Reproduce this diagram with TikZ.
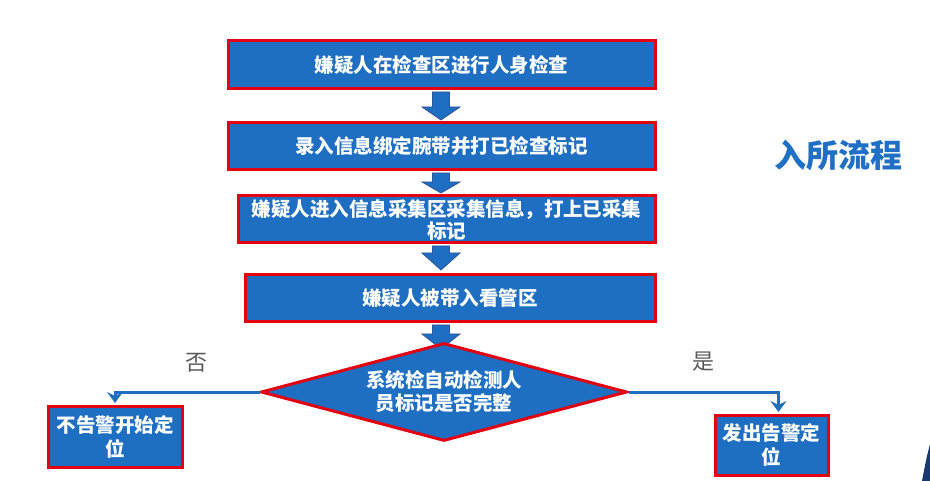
\documentclass[tikz,border=0pt]{standalone}
\usepackage{fontspec}
\newfontfamily\cjk{Noto Sans CJK SC}
\usetikzlibrary{shapes.geometric,arrows.meta,calc}
\definecolor{boxblue}{HTML}{1E6FC2}
\definecolor{boxred}{HTML}{E3000F}
\definecolor{arrline}{HTML}{2F5597}
\definecolor{lblgray}{HTML}{595959}
\definecolor{ttlblue}{HTML}{1F6FC5}
\definecolor{navy}{HTML}{1A3A6E}
\begin{document}
\begin{tikzpicture}[x=1pt,y=-1pt,
  stepbox/.style={draw=boxred,line width=3pt,fill=boxblue,text=white,
    font=\cjk\bfseries\fontsize{19.5}{24}\selectfont,align=center,inner sep=0pt,
    anchor=north west},
  decision/.style={diamond,draw=boxred,line width=3pt,fill=boxblue,text=white,
    font=\cjk\bfseries\fontsize{19.5}{23}\selectfont,align=center,inner sep=0pt,
    aspect=3.68,minimum width=366pt,minimum height=98pt},
  blockarr/.style={fill=boxblue,draw=arrline,line width=0.8pt},
  flow/.style={draw=boxblue,line width=3pt,-{Stealth[length=11pt,width=16pt,inset=4pt]}},
  lbl/.style={text=lblgray,font=\cjk\fontsize{22}{24}\selectfont},
]
\useasboundingbox (0,0) rectangle (930,481);
\coordinate (ax) at (441,0);

% block arrows (drawn before boxes)
\node[stepbox,minimum width=427pt,minimum height=48pt] (b1) at (226.5,39.5) {嫌疑人在检查区进行人身检查};
\node[stepbox,minimum width=427pt,minimum height=47pt] (b2) at (226.5,121.5) {录入信息绑定腕带并打已检查标记};
\node[stepbox,minimum width=417pt,minimum height=47pt] (b3) at (236.5,194.5) {嫌疑人进入信息采集区采集信息，打上已采集\\[-2pt]标记};
\node[stepbox,minimum width=410pt,minimum height=47pt] (b4) at (243.5,273.5) {嫌疑人被带入看管区};

\foreach \a/\b/\h in {b1/b2/13,b2/b3/11,b3/b4/16,b4/b5x/0}{}
\newcommand\blockarrow[3]{%
  \filldraw[blockarr] ($(#1.south -| ax)+(-8.5,1.5)$) -- ($(#1.south -| ax)+(8.5,1.5)$)
   -- ($(#2 -| ax)+(8.5,-#3)$) -- ($(#2 -| ax)+(19,-#3)$) -- (#2 -| ax)
   -- ($(#2 -| ax)+(-19,-#3)$) -- ($(#2 -| ax)+(-8.5,-#3)$) -- cycle;}
\coordinate (t1) at (441,120);
\coordinate (t2) at (441,193);
\coordinate (t3) at (441,270);
\coordinate (t4) at (441,349);
\blockarrow{b1}{t1}{13}
\blockarrow{b2}{t2}{11}
\blockarrow{b3}{t3}{17}
\blockarrow{b4}{t4}{15}

\node[decision] (dia) at (444,392) {系统检自动检测人\\员标记是否完整};

\node[stepbox,minimum width=134pt,minimum height=61pt,text width=124pt] (b5) at (46.5,404.5) {不告警开始定\\位};
\node[stepbox,minimum width=113pt,minimum height=60pt,text width=106pt] (b6) at (713.5,413.5) {发出告警定\\位};

\draw[flow] (dia.west) -| ($(b5.north)+(0,-1.5)$);
\draw[flow] (dia.east) -| ($(b6.north)+(7,-1.5)$);

\node[lbl] (no) at (196,363) {否};
\node[lbl] (yes) at (703,362) {是};

\node[text=ttlblue,font=\cjk\bfseries\fontsize{32}{34}\selectfont] (title) at (838,155) {入所流程};

\fill[navy] (922,481) .. controls (926,460) .. (930,444) -- (930,481) -- cycle;
\end{tikzpicture}
\end{document}
